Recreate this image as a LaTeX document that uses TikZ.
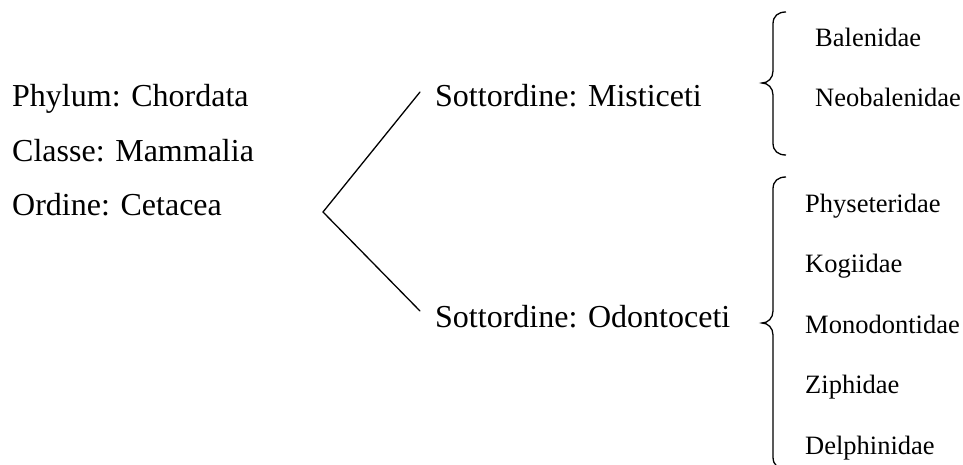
\documentclass[tikz,border=0pt]{standalone}
\usepackage{fontspec}
\setmainfont{Liberation Serif}
\begin{document}
\begin{tikzpicture}[x=1pt,y=-1pt,
  big/.style={anchor=base west,inner sep=0pt,font=\fontsize{32}{38}\selectfont},
  small/.style={anchor=base west,inner sep=0pt,font=\fontsize{26.5}{32}\selectfont},
  conn/.style={line width=1.3pt,line cap=round,line join=miter},
  brace/.style={line width=1.3pt}]
\useasboundingbox (0,0) rectangle (963,465);
% left column
\node[big] (phylum) at (12,107) {Phylum: Chordata};
\node[big] (classe) at (12,162) {Classe: Mammalia};
\node[big] (ordine) at (12,215) {Ordine: Cetacea};
% suborders
\node[big] (mist) at (435,107) {Sottordine: Misticeti};
\node[big] (odon) at (435,327) {Sottordine: Odontoceti};
% V connector
\coordinate (v) at (323,212);
\coordinate (vt) at (420,92);
\coordinate (vb) at (420,311);
\draw[conn] (vt) -- (v) -- (vb);
% families
\node[small] (bal) at (815,47) {Balenidae};
\node[small] (neo) at (815,107) {Neobalenidae};
\node[small] (phy) at (805,212) {Physeteridae};
\node[small] (kog) at (805,272) {Kogiidae};
\node[small] (mon) at (805,333) {Monodontidae};
\node[small] (zip) at (805,393) {Ziphidae};
\node[small] (del) at (805,454) {Delphinidae};
% braces
\draw[brace] (786,12) .. controls (778,12) and (773,16) .. (773,24) -- (773,71)
  .. controls (773,78) and (768,83) .. (762,83)
  .. controls (768,83) and (773,88) .. (773,95) -- (773,143)
  .. controls (773,151) and (778,155) .. (786,155);
\draw[brace] (786,177) .. controls (778,177) and (773,181) .. (773,189) -- (773,311)
  .. controls (773,318) and (768,323) .. (762,323)
  .. controls (768,323) and (773,328) .. (773,335) -- (773,457)
  .. controls (773,465) and (778,469) .. (786,469);
\end{tikzpicture}
\end{document}
